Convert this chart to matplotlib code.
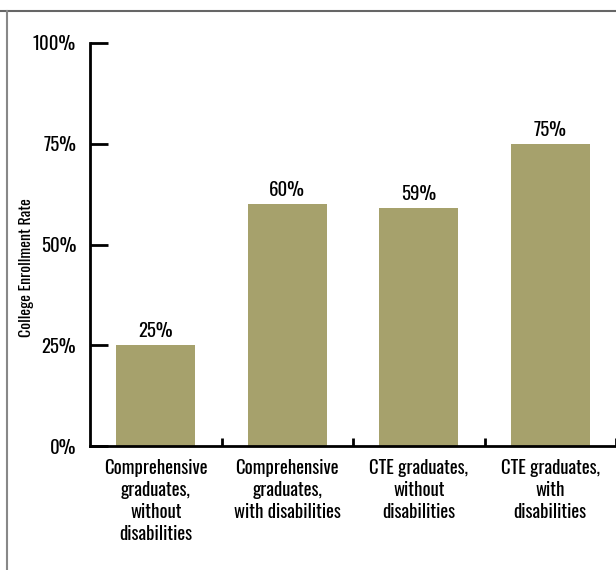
import matplotlib
matplotlib.use("Agg")
import matplotlib.pyplot as plt
from matplotlib.lines import Line2D

categories = ["Comprehensive\ngraduates,\nwithout\ndisabilities",
              "Comprehensive\ngraduates,\nwith disabilities",
              "CTE graduates,\nwithout\ndisabilities",
              "CTE graduates,\nwith\ndisabilities"]
rates = [25, 60, 59, 75]
yticks = [0, 25, 50, 75, 100]

plt.rcParams['font.family'] = ['Oswald', 'DejaVu Sans']
plt.rcParams['font.stretch'] = 'condensed'

fig = plt.figure(figsize=(6.16, 5.70), dpi=100)
ax = fig.add_axes([90/616, 124/570, 1 - 90/616, (446-43)/570])

x = list(range(len(rates)))
ax.bar(x, rates, width=0.6, color='#a6a16c')
for xi, r in zip(x, rates):
    ax.text(xi, r + 1.2, f"{r}%", ha='center', va='bottom', fontsize=13.5)

ax.set_xlim(-0.5, 3.5)
ax.set_ylim(0, 100)
ax.set_yticks(yticks)
ax.set_yticklabels([f"{t}%" for t in yticks], fontsize=13.5)
ax.set_xticks([0.5, 1.5, 2.5, 3.5])
ax.set_xticklabels([])
ax.tick_params(axis='y', direction='in', length=13, width=2, pad=10)
ax.tick_params(axis='x', direction='in', length=6, width=2)
for s in ['top', 'right']:
    ax.spines[s].set_visible(False)
for s in ['left', 'bottom']:
    ax.spines[s].set_linewidth(2)

for xi, c in zip(x, categories):
    ax.text(xi, -3.3, c, ha='center', va='top', fontsize=13.5,
            linespacing=1.27, clip_on=False)

fig.text(27/616, 1 - 268/570, "College Enrollment Rate", rotation=90,
         ha='center', va='center', fontsize=11.5)

fig.add_artist(Line2D([0, 1], [1 - 11/570, 1 - 11/570], color='#666666', lw=1.5))
fig.add_artist(Line2D([7/616, 7/616], [0, 1 - 11/570], color='#888888', lw=1.5))

fig.savefig("out.png", dpi=100)
